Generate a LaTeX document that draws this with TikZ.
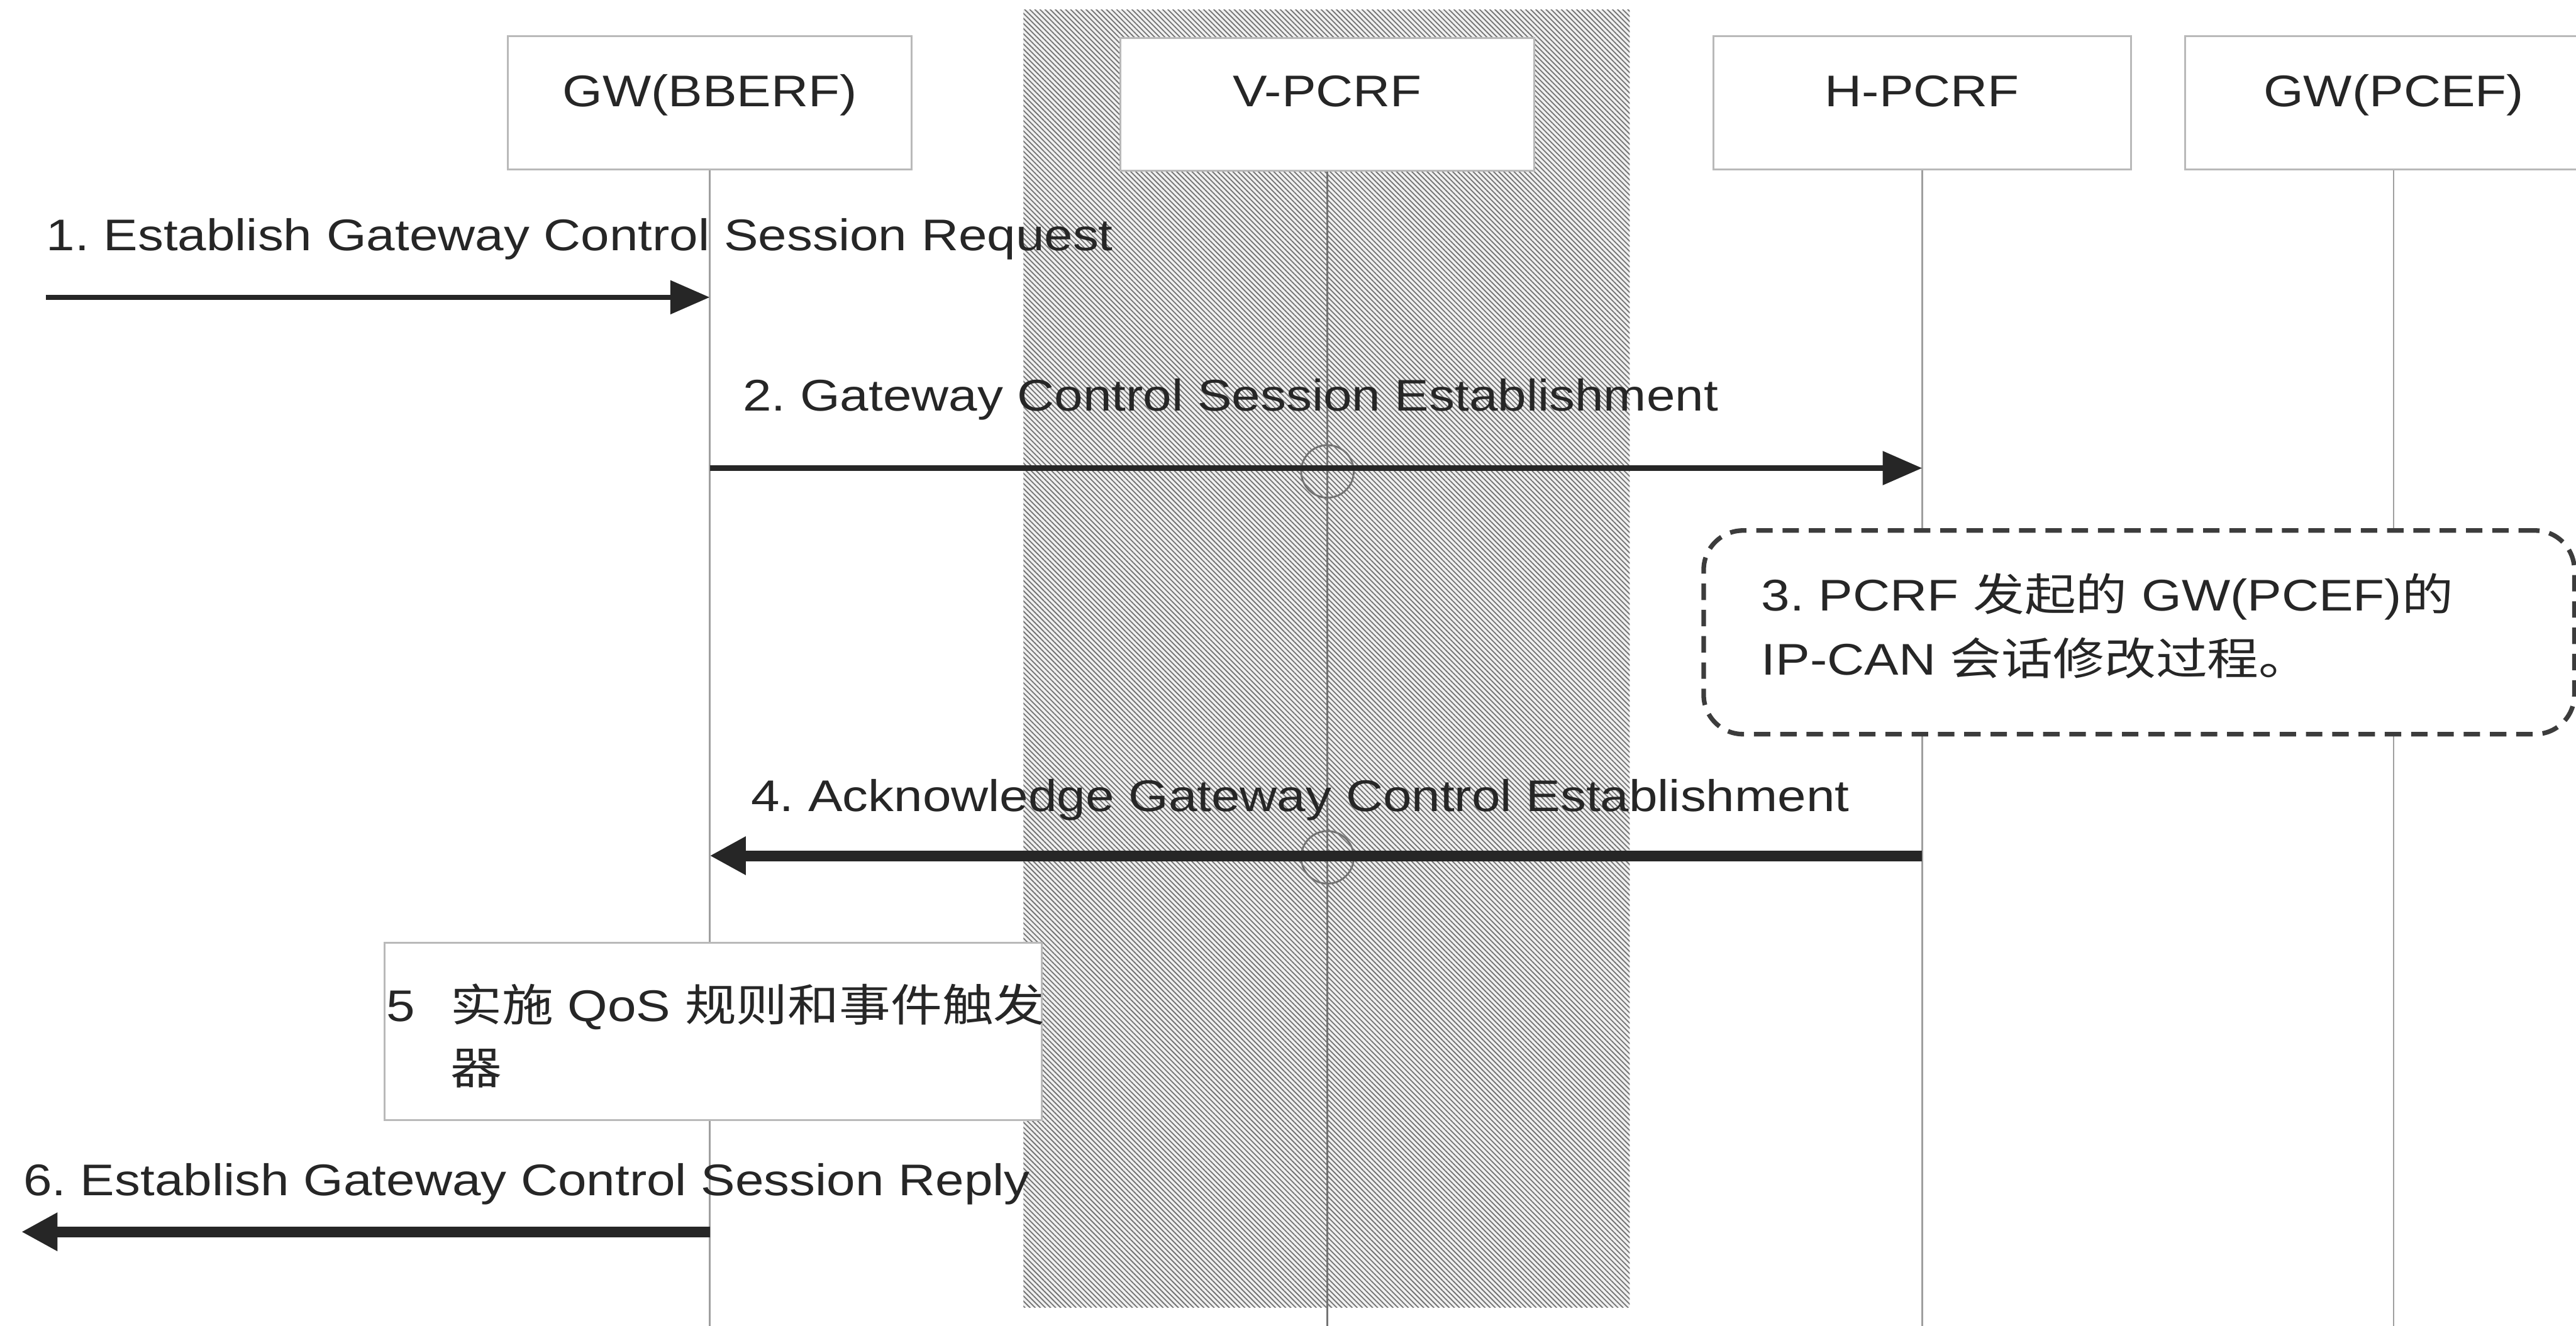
\documentclass[tikz,border=0pt]{standalone}
\usepackage{fontspec}
\setmainfont[FakeStretch=1.16]{Liberation Sans}
\newfontfamily\cjkfont[FakeStretch=1.16]{Noto Sans CJK SC}
\newcommand\zhtext[1]{{\cjkfont #1}}
\usetikzlibrary{arrows.meta,patterns.meta}
\definecolor{ink}{HTML}{262626}
\frenchspacing
\begin{document}
\begin{tikzpicture}[x=1pt,y=-1pt,
  font=\fontsize{27}{32}\selectfont, text=ink,
  actor/.style={draw=gray!55, line width=1.1pt, fill=white,
    minimum width=246pt, minimum height=81pt, inner sep=0pt},
  actorlabel/.style={anchor=base, inner sep=0pt},
  lifeline/.style={draw=gray!75, line width=0.9pt},
  msgthin/.style={draw=ink, line width=3.2pt, -{Triangle[length=24pt,width=20pt]}},
  msgbold/.style={draw=ink, line width=6.5pt, -{Triangle[length=22pt,width=22pt]}},
  msgtext/.style={anchor=base west, inner sep=0pt},
  crossing/.style={draw=black!55, line width=1.1pt},
  procbox/.style={draw=ink!90, line width=2.8pt, dash pattern=on 10pt off 6pt,
    rounded corners=24pt, fill=white, inner sep=0pt},
  actionbox/.style={draw=gray!55, line width=1.1pt, fill=white, inner sep=0pt},
]
\useasboundingbox (0,0) rectangle (1568,807);
\clip (0,0) rectangle (1568,807);
\fill[white] (0,0) rectangle (1568,807);

% visited network band
\fill[gray!12] (623,6) rectangle (992,796);
\fill[pattern={Lines[angle=135,distance=2.2pt,line width=0.7pt]}, pattern color=black!55]
  (623,6) rectangle (992,796);

% participants
\node[actor] (bbBox) at (432,62.5) {};
\node[actor, minimum width=252pt] (vpBox) at (808,63.5) {};
\node[actor, minimum width=254pt] (hpBox) at (1170,62.5) {};
\node[actor, minimum width=254pt] (pcBox) at (1457,62.5) {};
\node[actorlabel] (bbLbl) at (432,65) {GW(BBERF)};
\node[actorlabel] (vpLbl) at (808,65) {V-PCRF};
\node[actorlabel] (hpLbl) at (1170,65) {H-PCRF};
\node[actorlabel] (pcLbl) at (1457,65) {GW(PCEF)};

% lifelines
\draw[lifeline] (bbBox.south) -- ++(0,720);
\draw[lifeline, draw=black!55, line width=1.1pt] (vpBox.south) -- ++(0,720);
\draw[lifeline] (hpBox.south) -- ++(0,720);
\draw[lifeline] (pcBox.south) -- ++(0,720);

% message rows
\coordinate (in1) at (28,181);
\coordinate (m2) at (0,285);
\coordinate (m4) at (0,521);
\coordinate (out6) at (13,750);

% crossing marks on the V-PCRF lifeline
\draw[crossing] (vpBox.south |- m2) ++(0,2) circle[radius=16];
\draw[crossing] (vpBox.south |- m4) ++(0,1) circle[radius=16];

% 1
\node[msgtext] (t1) at (28,152.5) {1. Establish Gateway Control Session Request};
\draw[msgthin] (in1) -- (bbBox.south |- in1);

% 2
\node[msgtext] (t2) at (452,250) {2. Gateway Control Session Establishment};
\draw[msgthin] (bbBox.south |- m2) -- (hpBox.south |- m2);

% 3
\node[procbox, minimum width=530pt, minimum height=124pt] (p3) at (1302,385) {};
\node[msgtext] (t3a) at (1072,372) {3. PCRF \zhtext{发起的} GW(PCEF)\zhtext{的}};
\node[msgtext] (t3b) at (1072,411) {IP-CAN \zhtext{会话修改过程。}};

% 4
\node[msgtext] (t4) at (457,494) {4. Acknowledge Gateway Control Establishment};
\draw[msgbold] (hpBox.south |- m4) -- (bbBox.south |- m4);

% 5
\node[actionbox, minimum width=400pt, minimum height=108pt] (a5) at (434,628) {};
\node[msgtext] (t5n) at (235,622) {5};
\node[msgtext] (t5a) at (274,622) {\zhtext{实施} QoS \zhtext{规则和事件触发}};
\node[msgtext] (t5b) at (274,660) {\zhtext{器}};

% 6
\node[msgtext] (t6) at (14,728) {6. Establish Gateway Control Session Reply};
\draw[msgbold] (bbBox.south |- out6) -- (out6);
\end{tikzpicture}
\end{document}
